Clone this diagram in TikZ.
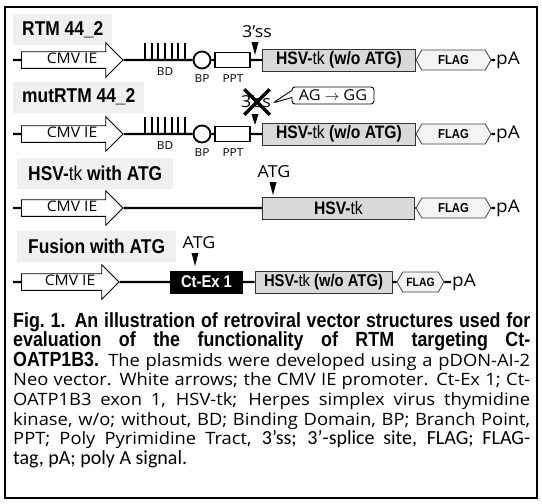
\documentclass[tikz,border=0pt]{standalone}
\usepackage{fontspec}
\setmainfont{Open Sans}[FakeStretch=1.08]
\newfontfamily\nsf[FakeStretch=0.87]{Liberation Sans}
\newfontfamily\calfont{Carlito}
\usetikzlibrary{positioning,shapes.arrows,shapes.symbols,shapes.callouts,shapes.misc}
\definecolor{labgray}{HTML}{F0F0F0}
\definecolor{hsvgray}{HTML}{D9D9D9}
\definecolor{flaggray}{HTML}{F4F4F4}

\begin{document}
\begin{tikzpicture}[
  x=1pt, y=-1pt,
  dna/.style={line width=2.4pt},
  prom/.style={single arrow, draw, fill=white, line width=0.8pt, single arrow head extend=9pt,
    single arrow tip angle=90, text height=9pt, text depth=2.5pt,
    inner ysep=2.2pt, inner xsep=17pt, anchor=west, font=\fontsize{14.5}{16}\selectfont},
  lab/.style={fill=labgray, anchor=west, minimum height=31pt, inner xsep=9pt,
    font=\nsf\bfseries\fontsize{20}{22}\selectfont},
  hsv/.style={draw=black!80, line width=0.9pt, fill=hsvgray, minimum height=22pt, inner sep=0pt,
    font=\nsf\bfseries\fontsize{18}{20}\selectfont},
  flag/.style={signal, signal to=east and west, signal pointer angle=120, draw=black!75,
    line width=0.8pt, fill=flaggray, minimum height=20pt, minimum width=75pt, inner sep=0pt,
    font=\nsf\bfseries\fontsize{13}{15}\selectfont},
  pa/.style={anchor=west, inner xsep=1pt, font=\fontsize{17.5}{19}\selectfont},
  small/.style={inner sep=0pt, font=\fontsize{11}{12}\selectfont},
  site/.style={inner sep=0pt, font=\fontsize{16.5}{18}\selectfont}
]
\useasboundingbox (0,0) rectangle (542,504);
\draw[line width=1.6pt] (5,7) rectangle (537,498);
\def\yA{60}\def\yB{134}\def\yC{208}\def\yD{282}

% ================= RTM rows =================
\node[lab] (rtm) at (13,29.5) {RTM 44\_2};
\node[lab] (mut) at (13,97) {mutRTM 44\_2};
\foreach \r/\y in {1/\yA,2/\yB}{
  \coordinate (s\r) at (13,\y);
  \node[prom] (cmv\r) at (21,\y) {\hspace*{8pt}CMV IE};
  \node[circle, draw, fill=white, line width=1.8pt, minimum size=17pt, inner sep=0pt] (bp\r) at (202,\y) {};
  \node[draw, fill=white, line width=1.6pt, minimum width=35pt, minimum height=15pt, inner sep=0pt] (ppt\r) at (232.5,\y) {};
  \node[hsv, minimum width=153pt, anchor=west] (hsv\r) at (262,\y) {HSV-{\mdseries tk} (w/o ATG)};
  \node[flag] (flag\r) at (453.5,\y) {FLAG};
  \node[pa] (pa\r) at (495,\y) {pA};
  \draw[dna] (s\r) -- (cmv\r.tail) (cmv\r.tip) -- (bp\r.west) (bp\r.east) -- (ppt\r.west)
    (ppt\r.east) -- (hsv\r.west) (hsv\r.east) -- (flag\r.west) (flag\r.east) -- (pa\r.west);
  \foreach \k in {0,...,6}{\draw[line width=1.8pt] ({145+6.67*\k},\y) -- ++(0,-17);}
  \node[small] (bd\r) at (165,\y+12) {BD};
  \node[small] (bpl\r) at (202,\y+19) {BP};
  \node[small] (pptl\r) at (233,\y+19) {PPT};
}
\fill (255,55) -- ++(-3.5,-13) -- ++(7,0) -- cycle;
\node[site] (ss1) at (257,32) {3’ss};
\fill (255,125) -- ++(-3.5,-11) -- ++(7,0) -- cycle;
\node[site] (ss2) at (256,102) {3’ss};
\node[cross out, draw, line width=3.5pt, minimum width=22pt, minimum height=22pt] (xmark) at (257,102) {};
\node[rectangle callout, draw, fill=white, rounded corners=3pt, line width=0.9pt,
  callout absolute pointer={(273,103)}, minimum width=82pt, minimum height=17pt, inner sep=0pt,
  font=\fontsize{15}{16}\selectfont] (agg) at (333,95.5) {AG $\rightarrow$ GG};

% ================= HSV-tk with ATG =================
\node[lab, inner xsep=11pt] (tkatg) at (17,173.5) {HSV-{\mdseries tk} with ATG};
\coordinate (s3) at (13,\yC);
\node[prom] (cmv3) at (21,\yC) {\hspace*{8pt}CMV IE};
\node[hsv, minimum width=152pt, anchor=west] (hsv3) at (262,\yC) {HSV-{\mdseries tk}};
\node[flag] (flag3) at (453.5,\yC) {FLAG};
\node[pa] (pa3) at (495,\yC) {pA};
\draw[dna] (s3) -- (cmv3.tail) (cmv3.tip) -- (hsv3.west) (hsv3.east) -- (flag3.west) (flag3.east) -- (pa3.west);
\fill (273,195) -- ++(-3.5,-13) -- ++(7,0) -- cycle;
\node[site] (atg3) at (274,172) {ATG};

% ================= Fusion with ATG =================
\node[lab, inner xsep=11pt] (fus) at (17,246.5) {Fusion with ATG};
\coordinate (s4) at (13,\yD);
\node[prom, inner xsep=15pt] (cmv4) at (21,\yD) {\hspace*{8pt}CMV IE};
\node[fill=black, text=white, minimum width=73pt, minimum height=23pt, inner sep=0pt,
  font=\nsf\bfseries\fontsize{17}{19}\selectfont] (ctex) at (206.5,\yD) {Ct-Ex 1};
\node[hsv, minimum width=137pt, font=\nsf\bfseries\fontsize{17}{19}\selectfont] (hsv4) at (323.5,\yD) {HSV-{\mdseries tk} (w/o ATG)};
\node[flag, minimum width=47pt, font=\nsf\bfseries\fontsize{12}{14}\selectfont] (flag4) at (420.5,\yD) {FLAG};
\node[pa] (pa4) at (451,\yD) {pA};
\draw[dna] (s4) -- (cmv4.tail) (cmv4.tip) -- (ctex.west) (ctex.east) -- (hsv4.west)
  (hsv4.east) -- (flag4.west) (flag4.east) -- (pa4.west);
\fill (195,266) -- ++(-3.5,-13) -- ++(7,0) -- cycle;
\node[site] (atg4) at (199,243) {ATG};

% ================= caption =================
\node[anchor=north west, text width=517pt, inner sep=0pt, align=justify,
  font=\fontsize{17}{19.6}\selectfont] (cap) at (13,312) {%
  {\nsf\bfseries\fontsize{20.5}{19.6}\selectfont Fig.~1. An illustration of retroviral vector structures used for\linebreak
  evaluation of the functionality of RTM targeting Ct-\linebreak OATP1B3.}
  The plasmids were developed using a pDON-AI-2\linebreak
  Neo vector. White arrows; the CMV IE promoter. Ct-Ex 1; Ct-\linebreak
  OATP1B3 exon 1, HSV-tk; Herpes simplex virus thymidine\linebreak
  kinase, w/o; without, BD; Binding Domain, BP; Branch Point,\linebreak
  PPT; Poly Pyrimidine Tract, {\calfont\fontsize{20}{19.6}\selectfont 3’ss; 3’-splice site, FLAG; FLAG-\linebreak
  tag, pA; poly A signal.}};
\end{tikzpicture}
\end{document}
